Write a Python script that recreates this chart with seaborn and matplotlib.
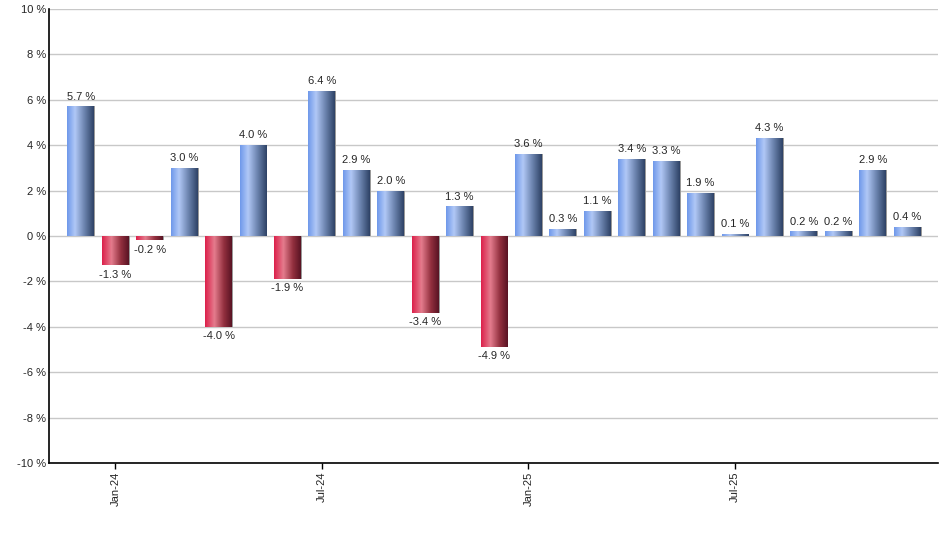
import numpy as np
import pandas as pd
import matplotlib
matplotlib.use("Agg")
import matplotlib.pyplot as plt
from matplotlib.colors import LinearSegmentedColormap
import seaborn as sns

# monthly change, Dec-23 .. Dec-25
months = pd.date_range("2023-12-01", "2025-12-01", freq="MS").strftime("%b-%y").tolist()
changes = [5.7, -1.3, -0.2, 3.0, -4.0, 4.0, -1.9, 6.4, 2.9, 2.0, -3.4, 1.3, -4.9,
           3.6, 0.3, 1.1, 3.4, 3.3, 1.9, 0.1, 4.3, 0.2, 0.2, 2.9, 0.4]
tick_months = ["Jan-24", "Jul-24", "Jan-25", "Jul-25"]

df = pd.DataFrame({"month": months, "change": changes})

sns.set_style("white")
plt.rcParams["font.family"] = ["Liberation Sans", "DejaVu Sans"]
fs = 8

fig = plt.figure(figsize=(9.4, 5.5), dpi=100)
ax = fig.add_axes([0.052, 0.158, 0.946, 0.826])

sns.barplot(data=df, x="month", y="change", ax=ax, width=0.78,
            color="#7da0e8", saturation=1, zorder=3)

blue = LinearSegmentedColormap.from_list(
    "b", [(0, "#6e98ea"), (0.3, "#b1c8f6"), (0.65, "#6b83ae"), (1, "#2d4165")])
red = LinearSegmentedColormap.from_list(
    "r", [(0, "#dc1f4a"), (0.35, "#e47c8d"), (0.7, "#93303f"), (1, "#581323")])
grad = np.linspace(0, 1, 256).reshape(1, -1)

for patch, val in zip(ax.patches, changes):
    x0, w = patch.get_x(), patch.get_width()
    y0, h = patch.get_y(), patch.get_height()
    # thin grey shadow on the right edge
    ax.add_patch(plt.Rectangle((x0 + w, min(y0, y0 + h)), 0.03, abs(h),
                               color="#9a9a9a", lw=0, zorder=2))
    im = ax.imshow(grad, cmap=blue if val >= 0 else red, aspect="auto",
                   extent=(x0, x0 + w, y0, y0 + h), zorder=4)
    im.set_clip_path(patch)
    patch.set_alpha(0)
    lbl = f"{val:.1f} %"
    if val >= 0:
        ax.annotate(lbl, (x0 + w / 2, val), xytext=(0, 3.5), textcoords="offset points",
                    ha="center", va="bottom", fontsize=fs, zorder=5)
    else:
        ax.annotate(lbl, (x0 + w / 2, val), xytext=(0, -3), textcoords="offset points",
                    ha="center", va="top", fontsize=fs, zorder=5)

ax.set_xlim(-0.93, 24.9)
ax.set_ylim(-10, 10)
ax.set_yticks(range(-10, 11, 2))
ax.set_yticklabels([f"{t} %" for t in range(-10, 11, 2)], fontsize=fs)
ax.set_xticks([months.index(m) for m in tick_months])
ax.set_xticklabels(tick_months, rotation=90, fontsize=fs)
ax.tick_params(axis="x", length=4, width=1, color="black", pad=2, bottom=True)
ax.tick_params(axis="y", length=0, pad=2)
ax.yaxis.grid(True, color="#c8c8c8", lw=1, zorder=0)
ax.set_axisbelow(True)
ax.set_xlabel("")
ax.set_ylabel("")
for s in ["top", "right"]:
    ax.spines[s].set_visible(False)
for s in ["left", "bottom"]:
    ax.spines[s].set_color("black")
    ax.spines[s].set_linewidth(1.2)

fig.savefig("out.png", dpi=100)
